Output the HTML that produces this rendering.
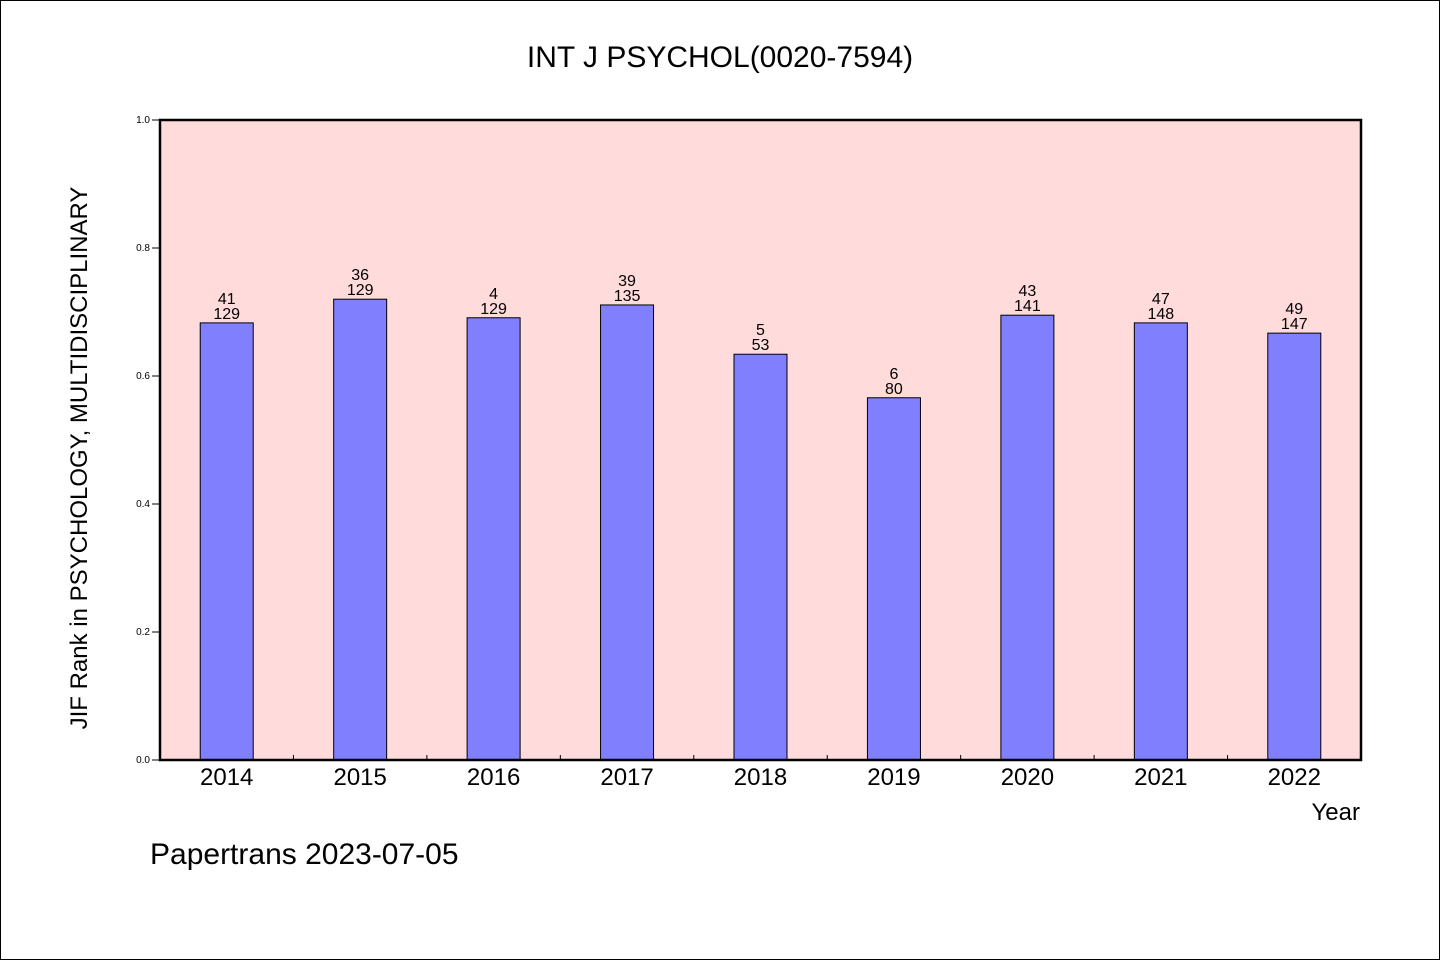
<!DOCTYPE html>
<html><head><meta charset="utf-8"><style>
html,body{margin:0;padding:0;background:#fff}
svg{display:block}
text{font-family:"WenQuanYi Zen Hei","Liberation Sans",sans-serif;fill:#000}
</style></head><body>
<svg id="chart" width="1440" height="960" xmlns="http://www.w3.org/2000/svg">
<rect x="0.5" y="0.5" width="1439" height="959" fill="#fff" stroke="#000"/>
<text x="720" y="67" font-size="30" text-anchor="middle">INT J PSYCHOL(0020-7594)</text>
<rect x="160" y="120" width="1201" height="640" fill="#ffdcdb"/>
<g id="bars"></g>
<g id="axes"></g>
<rect x="160" y="120" width="1201" height="640" fill="none" stroke="#000" stroke-width="2.5"/>
<text transform="translate(87,458) rotate(-90)" font-size="24" text-anchor="middle">JIF Rank in PSYCHOLOGY, MULTIDISCIPLINARY</text>
<text x="1360" y="820" font-size="24" text-anchor="end">Year</text>
<text x="150" y="864" font-size="30">Papertrans 2023-07-05</text>
</svg>
<script>
const categories=["2014","2015","2016","2017","2018","2019","2020","2021","2022"];
const values=[0.683,0.720,0.691,0.711,0.634,0.566,0.695,0.683,0.667];
const ranks=["41","36","4","39","5","6","43","47","49"];
const totals=["129","129","129","135","53","80","141","148","147"];
const yTicks=[0,0.2,0.4,0.6,0.8,1.0];
const yTickLabels=["0.0","0.2","0.4","0.6","0.8","1.0"];
const NS="http://www.w3.org/2000/svg";
const x0=160,x1=1361,y0=760,y1=120;
const step=(x1-x0)/categories.length;
const xc=i=>x0+step*(i+0.5);
const ys=v=>y0-(y0-y1)*v;
function mk(t,a,p){const e=document.createElementNS(NS,t);for(const k in a)e.setAttribute(k,a[k]);p.appendChild(e);return e;}
const bars=document.getElementById('bars'),axes=document.getElementById('axes');
categories.forEach((c,i)=>{
  const top=ys(values[i]);
  const r=mk('rect',{x:xc(i)-26.5,y:top,width:53,height:y0-top,fill:'#8080ff',stroke:'#000','stroke-width':1},bars);
  
  
  const t1=mk('text',{x:xc(i),y:top-19,'font-size':16,'text-anchor':'middle'},bars);t1.textContent=ranks[i];
  
  
  const t2=mk('text',{x:xc(i),y:top-4,'font-size':16,'text-anchor':'middle'},bars);t2.textContent=totals[i];
  
  
  const xl=mk('text',{x:xc(i),y:785,'font-size':24,'text-anchor':'middle'},axes);xl.textContent=c;
  
  
  if(i>0){const tk=mk('line',{x1:x0+step*i,x2:x0+step*i,y1:y0,y2:y0-5,stroke:'#000'},axes);
  
  }
});
yTicks.forEach((v,i)=>{
  const y=ys(v);
  const l=mk('line',{x1:x0-8,x2:x0,y1:y,y2:y,stroke:'#000'},axes);
  
  
  const t=mk('text',{x:x0-10,y:y+3,'font-size':10,'text-anchor':'end'},axes);t.textContent=yTickLabels[i];
  
  
});
</script>
</body></html>
